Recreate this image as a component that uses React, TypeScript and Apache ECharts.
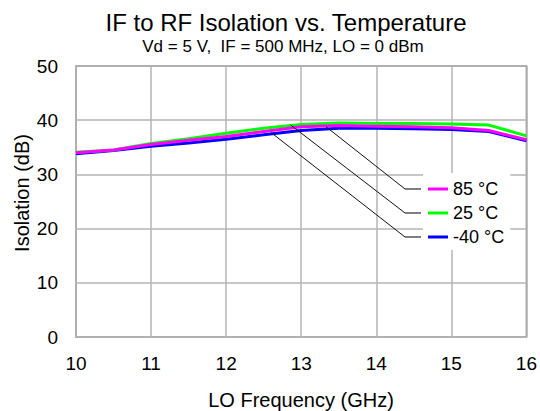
import React, { useEffect, useRef } from "react";
import * as echarts from "echarts";

const freqGHz = [10, 10.5, 11, 11.5, 12, 12.5, 13, 13.5, 14, 14.5, 15, 15.5, 16];
const iso85 = [34.0, 34.5, 35.5, 36.3, 37.0, 37.9, 38.8, 39.0, 38.9, 38.8, 38.6, 38.1, 36.4];
const iso25 = [34.1, 34.5, 35.7, 36.6, 37.6, 38.5, 39.2, 39.5, 39.4, 39.4, 39.3, 39.1, 37.1];
const isoM40 = [33.8, 34.4, 35.2, 35.8, 36.5, 37.3, 38.1, 38.5, 38.5, 38.4, 38.3, 37.9, 36.2];
const seriesNames = ["85 °C", "25 °C", "-40 °C"];
const seriesColors = ["#ff00ff", "#00ff00", "#0000ff"];
const seriesValues = [iso85, iso25, isoM40];
// points on curves where leader lines touch [GHz, dB]
const leaderAnchors = [
  [13.33, 38.8],
  [12.86, 39.1],
  [12.6, 37.7],
];

const titleText = "IF to RF Isolation vs. Temperature";
const subTitleText = "Vd = 5 V,  IF = 500 MHz, LO = 0 dBm";
const xName = "LO Frequency (GHz)";
const yName = "Isolation (dB)";

const FONT = "'Liberation Sans', Arial, sans-serif";

export default function App() {
  const ref = useRef<HTMLDivElement>(null);
  useEffect(() => {
    if (!ref.current) return;
    const chart = echarts.init(ref.current, null, { renderer: "svg" });
    const titleGraphics: any[] = [
      {
        type: "text",
        x: 286,
        y: 22,
        style: { text: titleText, font: `24px ${FONT}`, fill: "#000", textAlign: "center", textVerticalAlign: "middle" },
      },
      {
        type: "text",
        x: 283,
        y: 46,
        style: { text: subTitleText, font: `17px ${FONT}`, fill: "#000", textAlign: "center", textVerticalAlign: "middle" },
      },
      {
        type: "text",
        x: 22,
        y: 193,
        rotation: Math.PI / 2,
        style: { text: yName, font: `20px ${FONT}`, fill: "#000", textAlign: "center", textVerticalAlign: "middle" },
      },
      {
        type: "text",
        x: 301,
        y: 400,
        style: { text: xName, font: `20px ${FONT}`, fill: "#000", textAlign: "center", textVerticalAlign: "middle" },
      },
    ];
    const option: any = {
      animation: false,
      textStyle: { fontFamily: FONT },
      grid: {
        left: 76,
        right: 13,
        top: 66,
        bottom: 74,
        show: true,
        borderColor: "#888",
        borderWidth: 1.5,
        backgroundColor: "transparent",
      },
      legend: {
        orient: "vertical",
        left: 423,
        top: 173,
        padding: [7, 6, 4, 5],
        backgroundColor: "#fff",
        icon: "rect",
        itemWidth: 20,
        itemHeight: 3,
        itemGap: 6,
        textStyle: { fontSize: 18, color: "#000", fontFamily: FONT, lineHeight: 18 },
        data: seriesNames,
      },
      xAxis: {
        type: "value",
        min: 10,
        max: 16,
        interval: 1,
        axisLine: { show: false },
        axisTick: { show: false },
        axisLabel: { fontSize: 19, color: "#000", margin: 17, fontFamily: FONT },
        splitLine: { show: true, lineStyle: { color: "#b4b4b4", width: 1.5 } },
      },
      yAxis: {
        type: "value",
        min: 0,
        max: 50,
        interval: 10,
        axisLine: { show: false },
        axisTick: { show: false },
        axisLabel: { fontSize: 19, color: "#000", margin: 18, fontFamily: FONT },
        splitLine: { show: true, lineStyle: { color: "#b4b4b4", width: 1.5 } },
      },
      graphic: titleGraphics,
      series: seriesNames.map((name, i) => ({
        name,
        type: "line",
        data: freqGHz.map((f, j) => [f, seriesValues[i][j]]),
        showSymbol: false,
        symbol: "none",
        lineStyle: { color: seriesColors[i], width: 3 },
        itemStyle: { color: seriesColors[i] },
        z: 5 - i,
      })),
    };
    chart.setOption(option);

    const rowYs = [189, 213, 237];
    const elbowX = 405;
    const endX = 421;
    const leaders: any[] = [];
    leaderAnchors.forEach((a, i) => {
      const p = chart.convertToPixel({ gridIndex: 0 }, a) as number[];
      leaders.push({
        type: "line",
        z: 10,
        shape: { x1: p[0], y1: p[1], x2: elbowX, y2: rowYs[i] },
        style: { stroke: "#111", lineWidth: 1 },
      });
      leaders.push({
        type: "line",
        z: 10,
        shape: { x1: elbowX, y1: rowYs[i], x2: endX, y2: rowYs[i] },
        style: { stroke: "#555", lineWidth: 1.5 },
      });
    });
    chart.setOption({ graphic: [...titleGraphics, ...leaders] });
    return () => chart.dispose();
  }, []);
  return (
    <div
      ref={ref}
      style={{ position: "absolute", left: 0, top: 0, width: 540, height: 411, background: "#fff" }}
    />
  );
}
